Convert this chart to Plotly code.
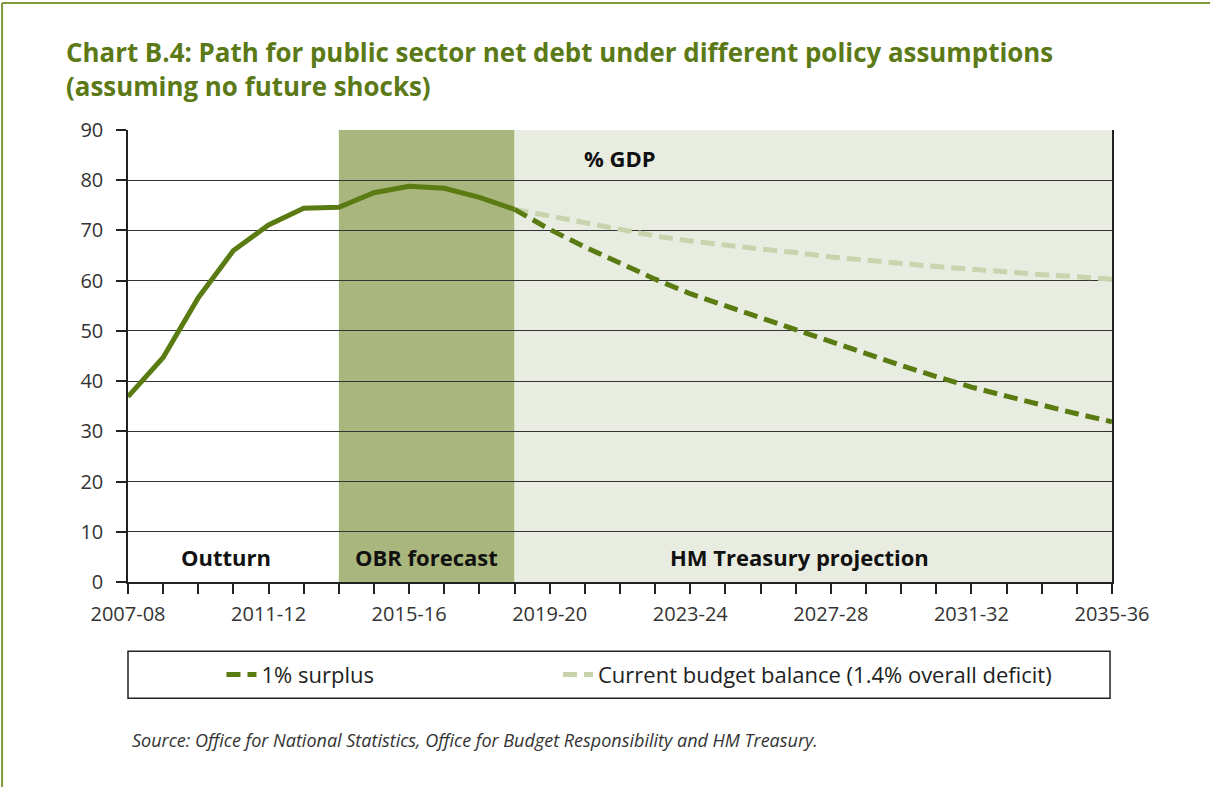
import plotly.graph_objects as go

# Fiscal years on the horizontal axis
years = [f"{y}-{str(y + 1)[-2:]}" for y in range(2007, 2036)]

# Public sector net debt, % GDP: outturn and OBR forecast (2007-08 to 2018-19)
outturn_forecast = [36.9, 44.7, 56.6, 66.0, 71.1, 74.4, 74.6, 77.5, 78.8, 78.4, 76.6, 74.2]

# HM Treasury projections (2018-19 to 2035-36)
surplus_1pc = [74.2, 70.2, 66.7, 63.4, 60.3, 57.4, 55.0, 52.6, 50.1, 47.7, 45.4, 43.1,
               40.9, 38.8, 37.0, 35.2, 33.5, 31.9]
current_balance = [74.2, 72.9, 71.6, 70.3, 68.9, 67.9, 67.0, 66.3, 65.6, 64.7, 64.1, 63.4,
                   62.8, 62.3, 61.7, 61.2, 60.8, 60.3]

tick_labels = [y if i % 4 == 0 else "" for i, y in enumerate(years)]
y_ticks = list(range(0, 91, 10))

DARK = "#5a7b12"
LIGHT = "#c9d3ad"
OBR_FILL = "#a9b67d"
HMT_FILL = "#e9ede1"
FRAME = "#7d9a3c"
FONT = "Open Sans"

n_hist = len(outturn_forecast)
proj_years = years[n_hist - 1:]

fig = go.Figure()

fig.add_trace(go.Scatter(
    x=years[:n_hist], y=outturn_forecast, mode="lines",
    line=dict(color=DARK, width=5), showlegend=False, hoverinfo="skip",
))
fig.add_trace(go.Scatter(
    x=proj_years, y=current_balance, mode="lines",
    name="Current budget balance (1.4% overall deficit)",
    line=dict(color=LIGHT, width=5, dash="14px,7px"), legend="legend2",
))
fig.add_trace(go.Scatter(
    x=proj_years, y=surplus_1pc, mode="lines", name="1% surplus",
    line=dict(color=DARK, width=5, dash="14px,7px"), legend="legend",
))

# Shaded periods: OBR forecast and HM Treasury projection
obr_start = years.index("2013-14")
obr_end = years.index("2018-19")
fig.add_shape(type="rect", xref="x", yref="y", x0=obr_start, x1=obr_end, y0=0, y1=90,
              fillcolor=OBR_FILL, line=dict(width=0), layer="below")
fig.add_shape(type="rect", xref="x", yref="y", x0=obr_end, x1=len(years) - 1, y0=0, y1=90,
              fillcolor=HMT_FILL, line=dict(width=0), layer="below")

# Legend frame
fig.add_shape(type="rect", xref="paper", yref="paper", x0=0.0, x1=0.998, y0=-0.257, y1=-0.153,
              line=dict(color="#222222", width=1.5), fillcolor="rgba(0,0,0,0)")

# Page frame (top and left rules)
fig.add_shape(type="line", xref="paper", yref="paper", x0=-0.128, x1=1.1, y0=1.281, y1=1.281,
              line=dict(color=FRAME, width=2))
fig.add_shape(type="line", xref="paper", yref="paper", x0=-0.128, x1=-0.128, y0=1.281, y1=-0.5,
              line=dict(color=FRAME, width=2))

period_font = dict(family=FONT, size=22, color="#111111")
for text, xpos in [("<b>Outturn</b>", 2.8),
                   ("<b>OBR forecast</b>", (obr_start + obr_end) / 2),
                   ("<b>HM Treasury projection</b>", 19.1)]:
    fig.add_annotation(x=xpos, y=5, xref="x", yref="y", text=text, showarrow=False,
                       font=period_font, xanchor="center", yanchor="middle")

fig.add_annotation(x=14, y=84.5, xref="x", yref="y", text="<b>% GDP</b>", showarrow=False,
                   font=period_font, xanchor="center", yanchor="middle")

fig.add_annotation(x=0.002, y=-0.35, xref="paper", yref="paper",
                   text="<i>Source: Office for National Statistics, Office for Budget Responsibility and HM Treasury.</i>",
                   showarrow=False, xanchor="left", yanchor="middle",
                   font=dict(family=FONT, size=18, color="#333333"))

legend_font = dict(family=FONT, size=22, color="#222222")
fig.update_layout(
    width=1210, height=787,
    margin=dict(l=128, r=98, t=130, b=205),
    paper_bgcolor="white", plot_bgcolor="white",
    title=dict(
        text="<b>Chart B.4: Path for public sector net debt under different policy assumptions<br>(assuming no future shocks)</b>",
        xref="container", yref="container", x=66 / 1210, y=1 - 62 / 787,
        xanchor="left", yanchor="top",
        font=dict(family=FONT, size=25.9, color="#5b7a17"),
    ),
    legend=dict(
        orientation="h", x=0.095, y=-0.205, xanchor="left", yanchor="middle",
        font=legend_font, bgcolor="rgba(0,0,0,0)",
    ),
    legend2=dict(
        orientation="h", x=0.437, y=-0.205, xanchor="left", yanchor="middle",
        font=legend_font, bgcolor="rgba(0,0,0,0)",
    ),
    showlegend=True,
)

fig.update_xaxes(
    type="category", categoryorder="array", categoryarray=years,
    range=[0, len(years) - 1],
    tickmode="array", tickvals=years, ticktext=tick_labels,
    ticks="outside", ticklen=10, tickcolor="#222222", tickwidth=1.5,
    ticklabelstandoff=3,
    showline=True, linecolor="#222222", linewidth=1.5,
    showgrid=False, zeroline=False,
    tickfont=dict(family=FONT, size=20, color="#333333"),
)
fig.update_yaxes(
    range=[0, 90], tickvals=y_ticks, ticks="outside", ticklen=10,
    tickcolor="#222222", tickwidth=1.5, ticklabelstandoff=9,
    showline=True, linecolor="#222222", linewidth=1.5, mirror=True,
    showgrid=True, gridcolor="#333333", gridwidth=1,
    zeroline=False,
    tickfont=dict(family=FONT, size=20, color="#333333"),
)

fig.write_html("out.html")
